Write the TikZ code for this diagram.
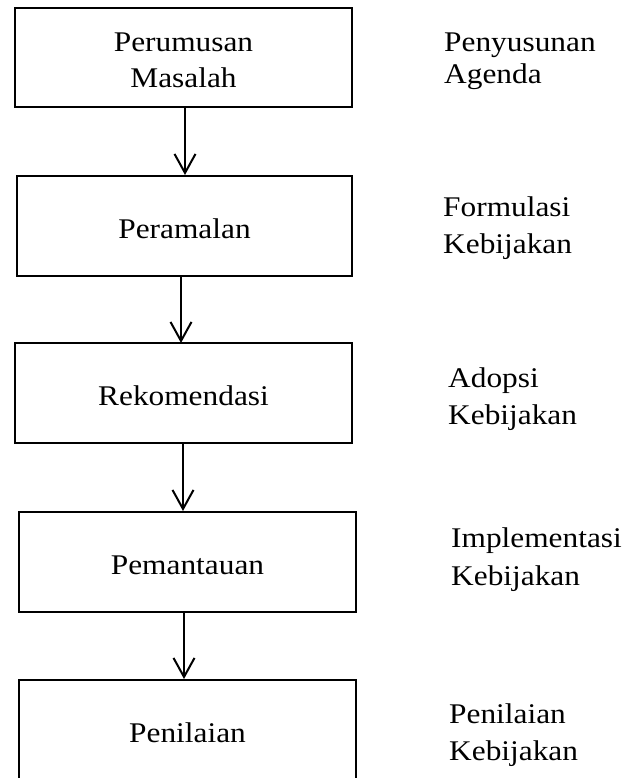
\documentclass[tikz,border=0pt]{standalone}
\usepackage{fontspec}
\setmainfont{Liberation Serif}
\usetikzlibrary{arrows.meta}
\newcommand\hstretch[1]{\scalebox{1.1}[1]{#1}}
\begin{document}
\begin{tikzpicture}[x=1pt,y=-1pt,
  stage/.style={draw, line width=2.4pt, inner sep=0pt, minimum width=337pt, minimum height=100pt,
    font=\fontsize{28.5}{36.5}\selectfont, align=center, text height=24pt, text depth=0pt},
  lab/.style={anchor=base west, inner sep=0pt, font=\fontsize{28.5}{36.5}\selectfont},
  flow/.style={line width=2pt, -{Straight Barb[length=19pt,width=21pt,line width=2pt]}}]
\useasboundingbox (0,0) rectangle (624,778);
\clip (0,0) rectangle (624,778);
% boxes
\node[stage, minimum height=99pt, text height=61pt, text depth=0pt] (b1) at (183.5,57.5) {\hstretch{Perumusan}\\\hstretch{Masalah}};
\node[stage, minimum width=335pt] (b2) at (184.5,226) {\hstretch{Peramalan}};
\node[stage] (b3) at (183.5,393) {\hstretch{Rekomendasi}};
\node[stage] (b4) at (187.5,562) {\hstretch{Pemantauan}};
\node[stage] (b5) at (187.5,730) {\hstretch{Penilaian}};
% arrows
\coordinate (a1s) at (185,107); \coordinate (a1e) at (185,175);
\coordinate (a2s) at (181,276); \coordinate (a2e) at (181,343);
\coordinate (a3s) at (183,443); \coordinate (a3e) at (183,511);
\coordinate (a4s) at (184,612); \coordinate (a4e) at (184,679);
\draw[flow] (a1s) -- (a1e);
\draw[flow] (a2s) -- (a2e);
\draw[flow] (a3s) -- (a3e);
\draw[flow] (a4s) -- (a4e);
% labels
\node[lab] (l1a) at (444,52) {\hstretch{Penyusunan}};
\node[lab] (l1b) at (444,84) {\hstretch{Agenda}};
\node[lab] (l2a) at (443,216) {\hstretch{Formulasi}};
\node[lab] (l2b) at (443,253) {\hstretch{Kebijakan}};
\node[lab] (l3a) at (448,387) {\hstretch{Adopsi}};
\node[lab] (l3b) at (448,424) {\hstretch{Kebijakan}};
\node[lab] (l4a) at (451,547) {\hstretch{Implementasi}};
\node[lab] (l4b) at (451,585) {\hstretch{Kebijakan}};
\node[lab] (l5a) at (449,723) {\hstretch{Penilaian}};
\node[lab] (l5b) at (449,760) {\hstretch{Kebijakan}};
\end{tikzpicture}
\end{document}
